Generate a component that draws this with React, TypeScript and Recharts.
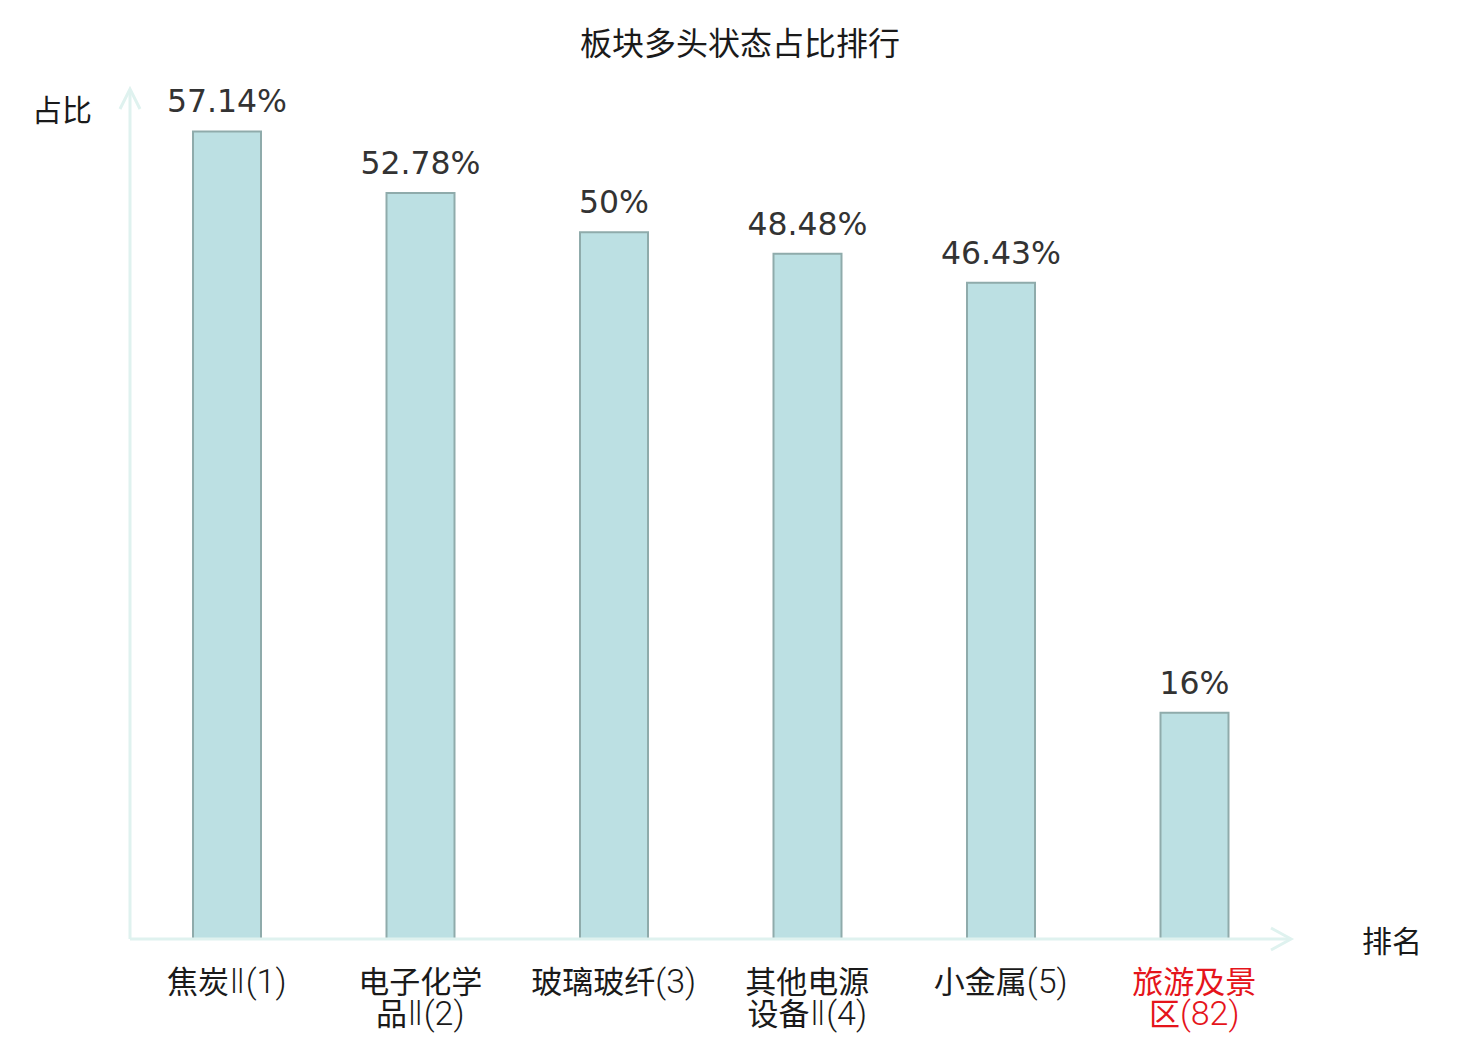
import React from 'react';
import { BarChart, Bar, XAxis, YAxis, LabelList, Cell } from 'recharts';

const title = '板块多头状态占比排行';
const sectorNames = ['焦炭Ⅱ', '电子化学品Ⅱ', '玻璃玻纤', '其他电源设备Ⅱ', '小金属', '旅游及景区'];
const ranks = [1, 2, 3, 4, 5, 82];
const ratios = [57.14, 52.78, 50, 48.48, 46.43, 16];
const highlighted = [false, false, false, false, false, true];
const yAxisName = '占比';
const xAxisName = '排名';

const data = sectorNames.map((name, i) => ({
  name,
  rank: ranks[i],
  label: `${name}(${ranks[i]})`,
  value: ratios[i],
  highlight: highlighted[i],
}));

const AXIS_COLOR = '#dff2ef';
const CJK = '"Noto Sans CJK SC", "DejaVu Sans", sans-serif';
const LATIN = '"DejaVu Sans", "Noto Sans CJK SC", sans-serif';
const THIN = '"Roboto", "DejaVu Sans", "Noto Sans CJK SC", sans-serif';

const isCJK = (ch: string) => /[\u3400-\u9fff]/.test(ch);

const segments = (s: string) => {
  const out: { text: string; cjk: boolean }[] = [];
  for (const ch of Array.from(s)) {
    const c = isCJK(ch);
    const last = out[out.length - 1];
    if (last && last.cjk === c) last.text += ch;
    else out.push({ text: ch, cjk: c });
  }
  return out;
};

const CategoryTick = (props: any) => {
  const { x, y, payload, index } = props;
  const d = data[index] ?? data.find((e) => e.label === payload.value);
  const name: string = d ? d.name : String(payload.value);
  const rank = d ? d.rank : '';
  const chars = Array.from(name);
  let lines: string[];
  if (chars.length > 4) {
    lines = [chars.slice(0, 4).join(''), chars.slice(4).join('') + `(${rank})`];
  } else {
    lines = [name + `(${rank})`];
  }
  const color = d && d.highlight ? '#e5141b' : '#1a1a1a';
  return (
    <g>
      {lines.map((ln, i) => (
        <text
          key={i}
          x={x}
          y={y + 46 + i * 32}
          textAnchor="middle"
          fill={color}
          style={{ fontSize: 31 }}
        >
          {segments(ln).map((sg, j) => (
            <tspan
              key={j}
              style={{
                fontFamily: sg.cjk ? CJK : THIN,
                fontWeight: sg.cjk ? 400 : 300,
                fontSize: sg.cjk ? 31 : 34,
              }}
            >
              {sg.text}
            </tspan>
          ))}
        </text>
      ))}
    </g>
  );
};

const ValueLabel = (props: any) => {
  const { x, y, width, value } = props;
  return (
    <text
      x={x + width / 2}
      y={y - 19}
      textAnchor="middle"
      fill="#333333"
      style={{ fontSize: 31.5, fontFamily: LATIN }}
    >
      {`${value}%`}
    </text>
  );
};

const YAxisLabel = (props: any) => {
  const vb = props.viewBox || {};
  const ax = vb.x + vb.width;
  const top = vb.y;
  return (
    <g>
      <polyline
        points={`${ax - 10},${top + 18} ${ax},${top - 2} ${ax + 10},${top + 18}`}
        fill="none"
        stroke={AXIS_COLOR}
        strokeWidth={3}
      />
      <text x={ax - 38} y={top + 30} textAnchor="end" fill="#1a1a1a" style={{ fontSize: 30, fontFamily: CJK }}>
        {yAxisName}
      </text>
    </g>
  );
};

const XAxisLabel = (props: any) => {
  const vb = props.viewBox || {};
  const tip = vb.x + vb.width;
  const ay = vb.y;
  return (
    <g>
      <polyline
        points={`${tip - 20},${ay - 11} ${tip},${ay} ${tip - 20},${ay + 11}`}
        fill="none"
        stroke={AXIS_COLOR}
        strokeWidth={3}
      />
      <text x={tip + 71} y={ay + 13} textAnchor="start" fill="#1a1a1a" style={{ fontSize: 30, fontFamily: CJK }}>
        {xAxisName}
      </text>
    </g>
  );
};

export default function App() {
  return (
    <div style={{ position: 'absolute', left: 0, top: 0, width: 1480, height: 1040, background: '#fff' }}>
      <div
        style={{
          position: 'absolute',
          left: 0,
          top: 20,
          width: 1480,
          textAlign: 'center',
          fontFamily: CJK,
          fontSize: 32,
          lineHeight: '42px',
          color: '#1a1a1a',
        }}
      >
        {title}
      </div>
      <BarChart
        width={1480}
        height={1040}
        data={data}
        margin={{ top: 91, right: 189, bottom: 11, left: 120 }}
        barCategoryGap={0}
      >
        <XAxis
          dataKey="label"
          height={90}
          axisLine={{ stroke: AXIS_COLOR, strokeWidth: 3 }}
          tickLine={false}
          tick={<CategoryTick />}
          interval={0}
          label={<XAxisLabel />}
        />
        <YAxis
          width={10}
          domain={[0, 60]}
          tick={false}
          tickLine={false}
          axisLine={{ stroke: AXIS_COLOR, strokeWidth: 3 }}
          label={<YAxisLabel />}
        />
        <Bar
          dataKey="value"
          barSize={68}
          fill="#bce0e3"
          stroke="#8fabab"
          strokeWidth={2}
          isAnimationActive={false}
        >
          {data.map((d, i) => (
            <Cell key={i} fill="#bce0e3" stroke="#8fabab" />
          ))}
          <LabelList dataKey="value" content={<ValueLabel />} />
        </Bar>
      </BarChart>
    </div>
  );
}
